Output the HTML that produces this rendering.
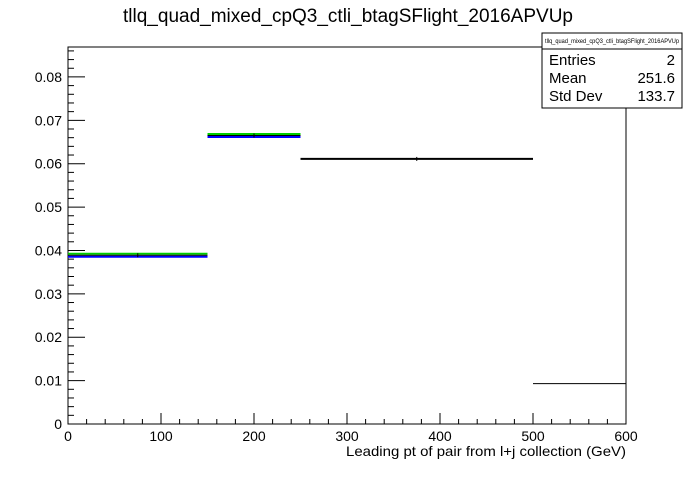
<!DOCTYPE html>
<html><head><meta charset="utf-8"><style>
body{margin:0;background:#fff;font-family:"Liberation Sans",sans-serif}
</style></head><body>
<svg id="c" width="696" height="472" xmlns="http://www.w3.org/2000/svg" font-family="Liberation Sans, sans-serif">
<rect width="696" height="472" fill="#fff"/>
<text x="348" y="22" font-size="19" text-anchor="middle">tllq_quad_mixed_cpQ3_ctli_btagSFlight_2016APVUp</text>
<rect x="68" y="47" width="558" height="377" fill="none" stroke="#000"/>
<g id="axes"></g>
<g id="marks"></g>
<text x="346" y="456" font-size="14" textLength="280" lengthAdjust="spacingAndGlyphs">Leading pt of pair from l+j collection (GeV)</text>
<g>
<rect x="542" y="33" width="140" height="75" fill="#fff" stroke="#000"/>
<line x1="542" y1="49" x2="682" y2="49" stroke="#000"/>
<text x="612" y="43" font-size="6" text-anchor="middle" textLength="134" lengthAdjust="spacingAndGlyphs">tllq_quad_mixed_cpQ3_ctli_btagSFlight_2016APVUp</text>
<text x="549" y="65" font-size="15">Entries</text><text x="675" y="65" font-size="15" text-anchor="end">2</text>
<text x="549" y="83" font-size="15">Mean</text><text x="675" y="83" font-size="15" text-anchor="end">251.6</text>
<text x="549" y="101" font-size="15">Std Dev</text><text x="675" y="101" font-size="15" text-anchor="end">133.7</text>
</g>
</svg>
<script>
const binEdges=[0,150,250,500,600];
const binValues=[0.0389,0.0665,0.0611,0.0093];
const greenValues=[0.0389,0.0665];
const blueValues=[0.0389,0.0665];
const xTicks=[0,100,200,300,400,500,600];
const yTicks=[0,0.01,0.02,0.03,0.04,0.05,0.06,0.07,0.08];
const yTickLabels=["0","0.01","0.02","0.03","0.04","0.05","0.06","0.07","0.08"];
const X=v=>68+v*558/600, Y=v=>424-v*377/0.0869;
const NS="http://www.w3.org/2000/svg";
function mk(p,t,a){const e=document.createElementNS(NS,t);for(const k in a)e.setAttribute(k,a[k]);p.appendChild(e);return e;}
const ax=document.getElementById('axes'),mk2=document.getElementById('marks');
for(let v=0;v<=600;v+=20){const l=mk(ax,'line',{x1:X(v),x2:X(v),y1:424,y2:v%100?419:413,stroke:'#000'});

}
xTicks.forEach(v=>{const t=mk(ax,'text',{x:X(v),y:441,'font-size':14,'text-anchor':'middle'});t.textContent=v;

});
for(let i=0;i<=43;i++){const v=i*0.002;const l=mk(ax,'line',{x1:68,x2:i%5?74:85,y1:Y(v),y2:Y(v),stroke:'#000'});

}
yTicks.forEach((v,i)=>{const t=mk(ax,'text',{x:62,y:Y(v)+5,'font-size':14,'text-anchor':'end'});t.textContent=yTickLabels[i];

});
for(let i=0;i<binValues.length;i++){
 const x1=X(binEdges[i]),x2=X(binEdges[i+1]);
 if(i<greenValues.length){
 const g=mk(mk2,'line',{x1,x2,y1:Y(greenValues[i])-1.5,y2:Y(greenValues[i])-1.5,stroke:'#00cc00','stroke-width':2});
 
 
 const b=mk(mk2,'line',{x1,x2,y1:Y(blueValues[i])+1.5,y2:Y(blueValues[i])+1.5,stroke:'#0000ff','stroke-width':2});
 
 }
 const k=mk(mk2,'line',{x1,x2,y1:Y(binValues[i]),y2:Y(binValues[i]),stroke:'#000','stroke-width':i==2?2:1});
 
 
 if(i<3){const e=mk(mk2,'line',{x1:(x1+x2)/2,x2:(x1+x2)/2,y1:Y(binValues[i])-2,y2:Y(binValues[i])+2,stroke:'#000'});
 
 }
}
</script>
</body></html>
